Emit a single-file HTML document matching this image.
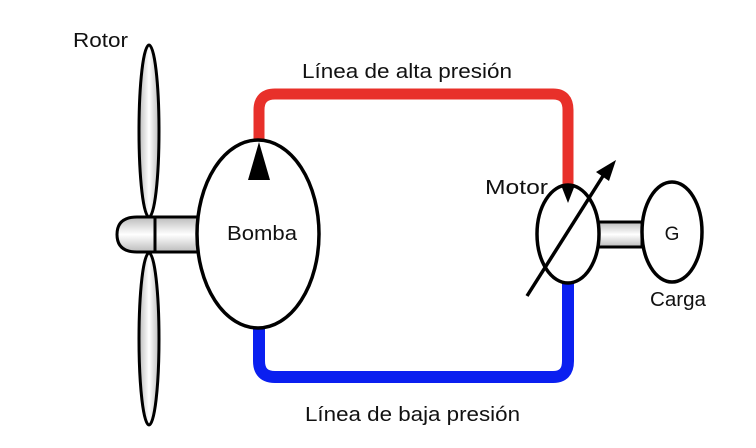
<!DOCTYPE html>
<html><head><meta charset="utf-8"><style>
body{margin:0;background:#fff;}
svg{display:block}
text{font-family:"Liberation Sans",sans-serif;fill:#111;}
</style></head><body>
<svg width="756" height="448" viewBox="0 0 756 448" xmlns="http://www.w3.org/2000/svg">
<defs>
<linearGradient id="g" x1="0" y1="0" x2="1" y2="0">
<stop offset="0" stop-color="#bbb"/><stop offset="0.5" stop-color="#fff"/><stop offset="1" stop-color="#bbb"/>
</linearGradient>
<linearGradient id="gv" x1="0" y1="0" x2="0" y2="1">
<stop offset="0" stop-color="#bbb"/><stop offset="0.5" stop-color="#fff"/><stop offset="1" stop-color="#bbb"/>
</linearGradient>
</defs>
<path d="M259 140 V110 Q259 94 275 94 H553 Q568 94 568 110 V186" fill="none" stroke="#e8302a" stroke-width="11"/>
<path d="M259 328 V361 Q259 377 275 377 H553 Q568 377 568 361 V283" fill="none" stroke="#0a1ff0" stroke-width="12"/>
<ellipse cx="149" cy="131" rx="10" ry="86" fill="url(#g)" stroke="#000" stroke-width="3"/>
<ellipse cx="149" cy="339" rx="10" ry="86" fill="url(#g)" stroke="#000" stroke-width="3"/>
<path d="M200 217 H155 V252 H200 Z" fill="url(#gv)" stroke="#000" stroke-width="3"/>
<path d="M155 217 H137 Q117 217 117 234.5 Q117 252 137 252 H155 Z" fill="url(#gv)" stroke="#000" stroke-width="3"/>
<ellipse cx="258" cy="234" rx="61" ry="94" fill="#fff" stroke="#000" stroke-width="3.5"/>
<polygon points="259,142 248,180 270,180" fill="#000"/>
<rect x="598" y="222" width="44" height="25" fill="url(#gv)" stroke="#000" stroke-width="3"/>
<ellipse cx="568" cy="234" rx="31" ry="49" fill="#fff" stroke="#000" stroke-width="3.5"/>
<polygon points="561,185 575,185 568,203" fill="#000"/>
<line x1="527" y1="296" x2="603" y2="176" stroke="#000" stroke-width="3.5"/>
<polygon points="616,160 596,172 609,181" fill="#000"/>
<ellipse cx="672" cy="232" rx="30" ry="50" fill="#fff" stroke="#000" stroke-width="3.5"/>
<text x="73" y="47" font-size="20" textLength="55" lengthAdjust="spacingAndGlyphs">Rotor</text>
<text x="302" y="78" font-size="20" textLength="210" lengthAdjust="spacingAndGlyphs">Línea de alta presión</text>
<text x="305" y="421" font-size="20" textLength="215" lengthAdjust="spacingAndGlyphs">Línea de baja presión</text>
<text x="227" y="240" font-size="20" textLength="70" lengthAdjust="spacingAndGlyphs">Bomba</text>
<text x="485" y="194" font-size="20" textLength="63" lengthAdjust="spacingAndGlyphs">Motor</text>
<text x="672" y="240" font-size="19" text-anchor="middle" fill="#444">G</text>
<text x="650" y="306" font-size="20" textLength="56" lengthAdjust="spacingAndGlyphs">Carga</text>
</svg>
</body></html>
